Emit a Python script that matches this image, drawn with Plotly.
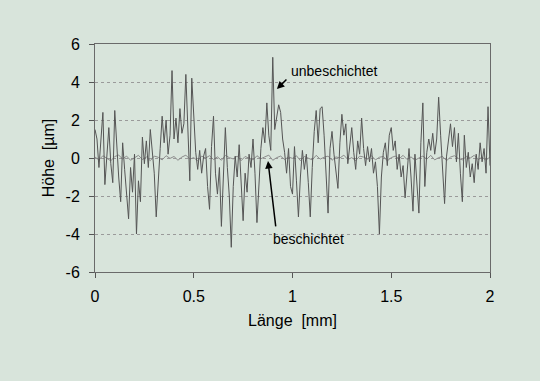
import plotly.graph_objects as go

# Profile data (x in mm, height in µm)
x_step_unb = 0.01
unbeschichtet = [
    1.5, 1.0, -0.5, 0.8, 2.4, -1.4, 0.2, 1.6, -0.3, -1.3,
    2.5, 0.6, -1.0, -2.3, 0.8, -0.6, -1.8, -3.2, -0.5, -1.8,
    0.2, -4.0, -1.2, -2.3, 1.1, -0.3, 0.9, -0.5, 1.5, 0.4,
    -0.8, -3.1, -1.0, 0.5, 2.2, 0.8, 2.0, 0.2, 1.2, 4.6,
    1.0, 2.1, 0.8, 2.6, 1.3, 1.8, 4.4, 1.0, -1.2, 4.2,
    2.5, 0.3, -0.6, 0.4, -0.8, 0.1, 0.5, -1.5, -2.7, 0.6,
    2.2, -0.8, -1.9, -0.5, -3.6, -1.2, 1.6, -0.5, -2.0, -4.7,
    -1.5, 0.1, -1.0, 0.7, -1.2, -3.3, -0.8, -1.8, 0.2, -0.5,
    1.0, -0.8, -3.4, -1.0, 0.5, 1.6, 0.8, 2.9, 1.2, 0.4,
    5.3, 1.5, 2.2, 2.8, 2.4, 1.0, 0.3, -0.8, 0.5, -1.5,
    -1.9, 0.6, -1.2, -3.1, -1.0, 0.4, -0.6, 0.2, -1.3, -3.1,
    -0.5, 1.4, 2.5, 0.8, 2.6, 2.7, 1.2, -0.6, -2.9, 0.5,
    1.4, 0.2, -0.8, -1.6, 0.8, 2.3, 1.2, 1.8, -0.3, 0.6,
    1.6, 0.3, -0.6, 0.9, 0.2, 2.1, 0.5, -0.4, 0.6, -0.2,
    0.5, -0.8, -0.2, -1.5, -4.0, -1.0, 0.3, 0.8, -0.4, 1.2,
    1.6, 0.4, 0.9, -0.6, 0.2, -1.0, -0.4, -2.1, -0.5, 0.5,
    -1.0, -2.8, 0.2, -1.5, -2.9, 0.8, 2.9, -1.5, 0.3, 1.0,
    0.4, 1.3, 0.2, 1.0, 3.2, 1.2, -0.5, -2.4, 0.1, 0.9,
    1.8, 0.6, 1.6, -0.2, 1.3, -0.8, -2.3, 1.2, -0.5, 0.3,
    -1.0, -0.3, -1.3, 0.2, -0.6, 0.8, -0.2, 0.5, -0.8, 2.7,
    -0.4,
]
x_step_bes = 0.02
beschichtet = [
    0.05, -0.10, 0.12, 0.00, -0.15, 0.08, 0.15, -0.05, 0.10, -0.12,
    0.02, 0.14, -0.08, 0.06, -0.14, 0.10, 0.04, -0.10, 0.12, -0.02,
    0.08, -0.12, 0.05, 0.15, -0.06, 0.02, -0.15, 0.10, 0.00, 0.12,
    -0.08, 0.06, -0.12, 0.14, 0.02, -0.05, 0.10, -0.14, 0.08, 0.00,
    -0.10, 0.12, -0.04, 0.06, 0.15, -0.12, 0.02, 0.10, -0.08, 0.05,
    -0.02, 0.12, -0.14, 0.08, 0.00, -0.10, 0.14, -0.06, 0.04, 0.10,
    -0.12, 0.06, 0.00, 0.15, -0.08, 0.02, -0.14, 0.10, 0.05, -0.06,
    0.12, -0.10, 0.04, 0.08, -0.15, 0.02, 0.10, -0.04, 0.14, -0.08,
    0.06, -0.12, 0.00, 0.10, -0.06, 0.14, -0.10, 0.02, 0.08, -0.14,
    0.05, 0.12, -0.02, -0.10, 0.08, 0.00, 0.14, -0.08, 0.04, -0.12,
    0.06,
]
x_ticks = [0, 0.5, 1, 1.5, 2]
x_tick_labels = ["0", "0.5", "1", "1.5", "2"]
y_ticks = [-6, -4, -2, 0, 2, 4, 6]
y_tick_labels = ["-6", "-4", "-2", "0", "2", "4", "6"]

x_unb = [round(i * x_step_unb, 4) for i in range(len(unbeschichtet))]
x_bes = [round(i * x_step_bes, 4) for i in range(len(beschichtet))]

BG = "#d8e4db"
FONT = "Liberation Sans, Arial, sans-serif"

fig = go.Figure()
fig.add_trace(go.Scatter(x=x_bes, y=beschichtet, mode="lines",
                         line=dict(color="#8c8c8c", width=1),
                         name="beschichtet", showlegend=False))
fig.add_trace(go.Scatter(x=x_unb, y=unbeschichtet, mode="lines",
                         line=dict(color="#555555", width=1),
                         name="unbeschichtet", showlegend=False))

fig.update_layout(
    width=540, height=381,
    margin=dict(l=95, r=50, t=44, b=109),
    paper_bgcolor=BG, plot_bgcolor=BG,
    font=dict(family=FONT, size=15, color="black"),
    xaxis=dict(range=[0, 2], tickvals=x_ticks, ticktext=x_tick_labels,
               ticks="outside", ticklen=5, tickcolor="#555555",
               tickfont=dict(size=16), ticklabelstandoff=5,
               showline=True, linecolor="#6a6a6a", linewidth=1, mirror=True,
               showgrid=False, zeroline=False,
               title=dict(text="Länge  [mm]", standoff=10,
                          font=dict(size=16))),
    yaxis=dict(range=[-6, 6], tickvals=y_ticks, ticktext=y_tick_labels,
               ticks="outside", ticklen=5, tickcolor="#555555",
               tickfont=dict(size=16), ticklabelstandoff=6,
               showline=True, linecolor="#6a6a6a", linewidth=1, mirror=True,
               showgrid=True, gridcolor="#9a9a9a", griddash="dot", gridwidth=1,
               zeroline=False,
               title=dict(text="Höhe  [µm]", standoff=6,
                          font=dict(size=16))),
)

fig.add_annotation(x=0.98, y=4.6, text="unbeschichtet", showarrow=False,
                   xanchor="left", yanchor="middle",
                   font=dict(family=FONT, size=14, color="black"))
fig.add_annotation(x=0.921, y=3.63, ax=0.977, ay=4.21, axref="x", ayref="y",
                   text="", showarrow=True, arrowhead=2, arrowsize=1,
                   arrowwidth=1.5, arrowcolor="black")
fig.add_annotation(x=0.89, y=-4.25, text="beschichtet", showarrow=False,
                   xanchor="left", yanchor="middle",
                   font=dict(family=FONT, size=14, color="black"))
fig.add_annotation(x=0.876, y=-0.16, ax=0.916, ay=-3.68, axref="x", ayref="y",
                   text="", showarrow=True, arrowhead=2, arrowsize=1,
                   arrowwidth=1.5, arrowcolor="black")

fig.write_html("out.html")
